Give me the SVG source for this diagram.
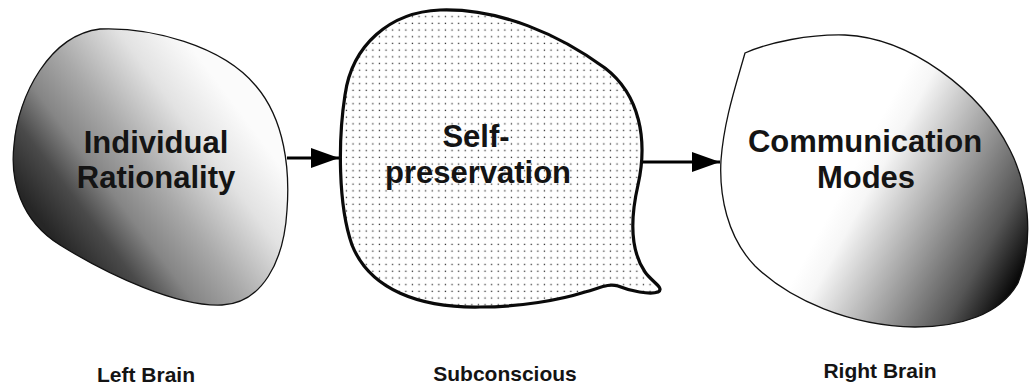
<svg xmlns="http://www.w3.org/2000/svg" width="1032" height="386" viewBox="0 0 1032 386">
  <defs>
    <style>
      .label { font-family: "Liberation Sans", Arial, sans-serif; font-weight: bold; fill: #141414; text-anchor: middle; }
      .big { font-size: 31px; }
      .small { font-size: 21px; }
      .thin { stroke: #111; stroke-width: 1.3; }
      .thick { stroke: #0a0a0a; stroke-width: 3.2; }
      .conn { stroke: #000; stroke-width: 3; fill: none; }
    </style>
    <!-- dark lower-left to light upper-right shading -->
    <linearGradient id="shadeLeft" gradientUnits="userSpaceOnUse" x1="55.6" y1="240.8" x2="235.6" y2="105.8">
      <stop offset="0" stop-color="#262626"/>
      <stop offset="0.18" stop-color="#4a4a4a"/>
      <stop offset="0.33" stop-color="#858585"/>
      <stop offset="0.52" stop-color="#a9a9a9"/>
      <stop offset="0.78" stop-color="#e2e2e2"/>
      <stop offset="1" stop-color="#fbfbfb"/>
    </linearGradient>
    <!-- white upper-left to black lower-right shading -->
    <linearGradient id="shadeRight" gradientUnits="userSpaceOnUse" x1="850" y1="175" x2="1025" y2="270">
      <stop offset="0" stop-color="#ffffff"/>
      <stop offset="0.12" stop-color="#f6f6f6"/>
      <stop offset="0.5" stop-color="#9a9a9a"/>
      <stop offset="0.78" stop-color="#555555"/>
      <stop offset="1" stop-color="#050505"/>
    </linearGradient>
    <!-- fine dot fill -->
    <pattern id="dots" patternUnits="userSpaceOnUse" width="6.6" height="6.7">
      <rect width="6.6" height="6.7" fill="#ffffff"/>
      <rect x="2.6" y="2.6" width="1.3" height="1.3" fill="#333333"/>
    </pattern>
    <marker id="head" markerUnits="userSpaceOnUse" markerWidth="30" markerHeight="22" refX="28" refY="10" orient="auto">
      <path d="M0,0 L28,10 L0,20 Z" fill="#000"/>
    </marker>
  </defs>

  <rect width="1032" height="386" fill="#ffffff"/>

  <g id="connectors">
    <line class="conn" x1="287" y1="158" x2="339" y2="158" marker-end="url(#head)"/>
    <line class="conn" x1="640" y1="162" x2="720" y2="162" marker-end="url(#head)"/>
  </g>

  <g id="node-rationality">
    <path class="thin" fill="url(#shadeLeft)" d="M100,29 C150,27 222,45 256,86 C285,120 290,170 287,210 C284,262 262,303 222,305 C178,307 110,276 60,245 C20,220 10,180 14,145 C18,95 50,35 100,29 Z"/>
    <text class="label big" x="156" y="153">Individual</text>
    <text class="label big" x="156" y="188">Rationality</text>
  </g>

  <g id="node-self-preservation">
    <path class="thick" fill="url(#dots)" d="M440,10 C500,8 560,35 605,68 C640,95 648,140 638,185 C630,220 630,250 645,272 C652,282 665,288 658,292 C650,295 630,291 618,286 C608,283 600,288 585,292 C560,300 520,307 480,307 C420,308 370,290 352,245 C338,205 338,140 345,95 C352,45 390,12 440,10 Z"/>
    <text class="label big" x="476" y="147">Self-</text>
    <text class="label big" x="478" y="183">preservation</text>
  </g>

  <g id="node-communication">
    <path class="thin" fill="url(#shadeRight)" d="M745,53 C770,42 810,34 845,35 C910,38 980,90 1010,150 C1028,185 1035,240 1018,283 C1000,315 960,327 915,327 C850,326 790,300 755,266 C727,237 719,195 721,160 C724,120 736,85 745,53 Z"/>
    <text class="label big" x="865" y="152">Communication</text>
    <text class="label big" x="866" y="188">Modes</text>
  </g>

  <g id="caption-left">
    <text class="label small" x="146" y="382">Left Brain</text>
  </g>
  <g id="caption-middle">
    <text class="label small" x="505" y="381">Subconscious</text>
  </g>
  <g id="caption-right">
    <text class="label small" x="880" y="378">Right Brain</text>
  </g>
</svg>
